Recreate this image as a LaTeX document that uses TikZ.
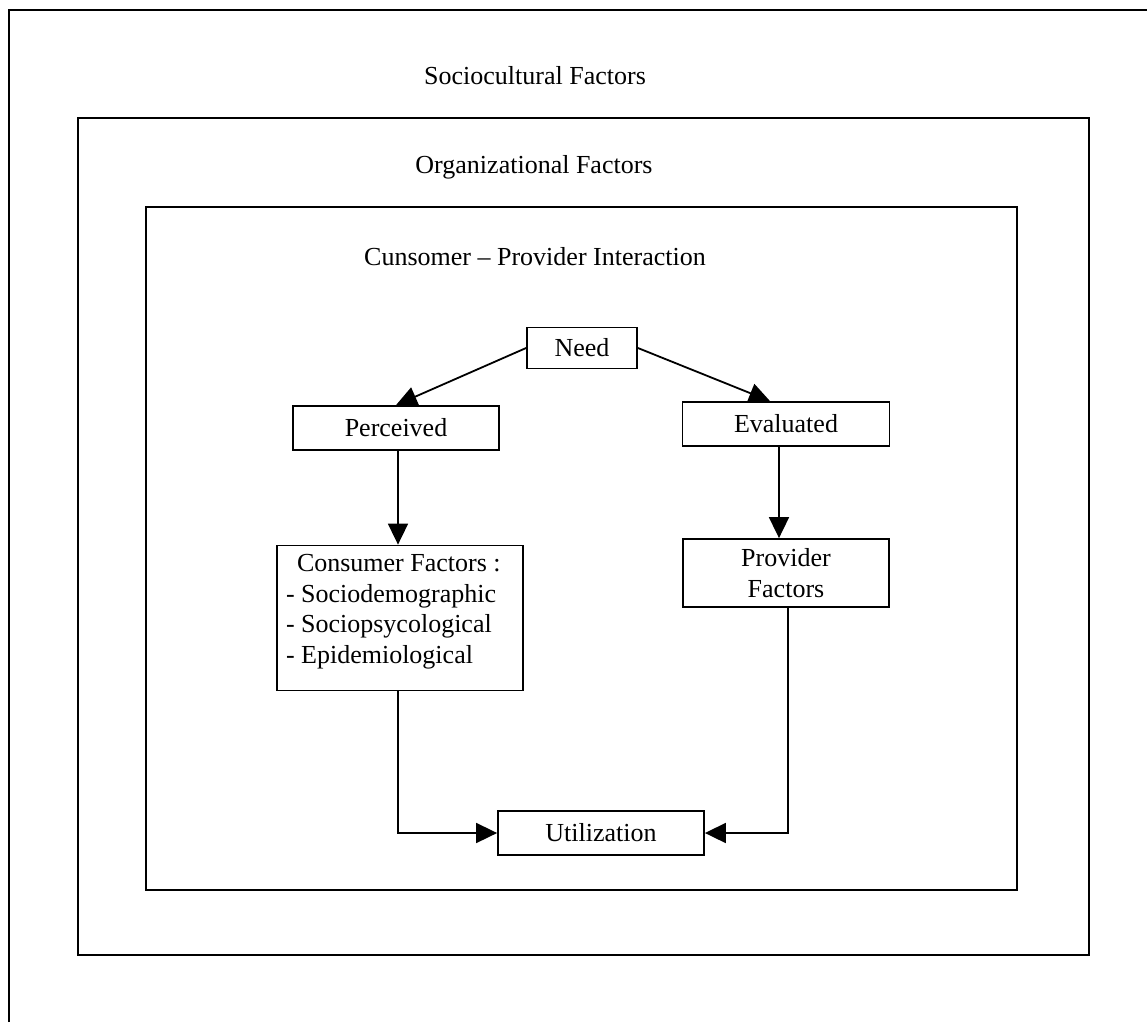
\documentclass[tikz,border=0pt]{standalone}
\usepackage{fontspec}
\setmainfont{Liberation Serif}
\usetikzlibrary{arrows.meta,calc}
\begin{document}
\begin{tikzpicture}[x=1pt,y=-1pt,
  frame/.style={line width=2pt},
  box/.style={draw,line width=1.8pt,inner sep=0pt,align=center,
    font=\fontsize{26}{31}\selectfont},
  title/.style={inner sep=0pt,font=\fontsize{26}{31}\selectfont},
  link/.style={line width=1.8pt,-{Triangle[length=21pt,width=20pt]}},
  plain/.style={line width=1.8pt}]
\useasboundingbox (0,0) rectangle (1147,1022);

% nested context frames
\draw[frame] (9,1022) -- (9,10) -- (1147,10);
\draw[frame] (78,118) rectangle (1089,955);
\draw[frame] (146,207) rectangle (1017,890);

% frame titles
\node[title] (socio) at (535,76) {Sociocultural Factors};
\node[title] (org) at (534,167) {Organizational Factors};
\node[title] (inter) at (535,257) {Cunsomer \textendash\ Provider Interaction};

% boxes
\node[box,minimum width=110pt,minimum height=41pt] (need) at (582,348) {Need};
\node[box,minimum width=206pt,minimum height=44pt] (perc) at (396,428) {Perceived};
\node[box,minimum width=207pt,minimum height=44pt] (eval) at (786,424) {Evaluated};
\node[box,minimum width=246pt,minimum height=145pt,align=left] (cons) at (400,618)
  {\parbox[c][145pt][t]{228pt}{\vspace*{9pt}\fontsize{26}{30.5}\selectfont
   \hspace*{11pt}Consumer Factors :\\
   - Sociodemographic\\
   - Sociopsycological\\
   - Epidemiological}};
\node[box,minimum width=206pt,minimum height=68pt] (prov) at (786,573) {Provider\\Factors};
\node[box,minimum width=206pt,minimum height=44pt] (util) at (601,833) {Utilization};

% connectors
\draw[link] (need.west) -- (perc.north);
\draw[link] (need.east) -- ([xshift=-16pt]eval.north);
\draw[link] ([xshift=2pt]perc.south) -- ([xshift=-2pt]cons.north);
\draw[link] ([xshift=-7pt]eval.south) -- ([xshift=-7pt]prov.north);
\draw[link] ([xshift=-2pt]cons.south) |- (util.west);
\draw[link] ([xshift=2pt]prov.south) |- (util.east);
\end{tikzpicture}
\end{document}
